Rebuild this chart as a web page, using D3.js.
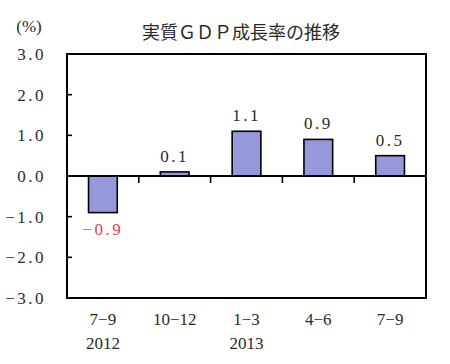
<!DOCTYPE html>
<html><head><meta charset="utf-8">
<script src="https://cdn.jsdelivr.net/npm/d3@7"></script>
<style>
body{margin:0;background:#fff;}
text{font-family:"Liberation Serif","DejaVu Serif",serif;fill:#2a2a2a;}
.jp{font-family:"Noto Sans CJK JP","Noto Sans",sans-serif;}
</style></head>
<body><svg id="c" width="450" height="364"></svg>
<script>
const categories = ["7-9","10-12","1-3","4-6","7-9"];
const years = ["2012","","2013","",""];
const values = [-0.9, 0.1, 1.1, 0.9, 0.5];
const yTicks = [3, 2, 1, 0, -1, -2, -3];
const title = "実質ＧＤＰ成長率の推移";
const unit = "(%)";

const svg = d3.select("#c");
const m = {l:67, r:426, t:54, b:298};
const x = d3.scaleBand().domain(d3.range(categories.length)).range([m.l, m.r]).paddingInner(0).paddingOuter(0);
const y = d3.scaleLinear().domain([-3, 3]).range([m.b, m.t]);
const bw = x.bandwidth()*0.4;

// bars
svg.selectAll("rect.bar").data(values).enter().append("rect")
  .attr("x",(d,i)=>x(i)+x.bandwidth()/2-bw/2)
  .attr("y",d=>y(Math.max(0,d)))
  .attr("width",bw)
  .attr("height",d=>Math.abs(y(d)-y(0)))
  .attr("fill","#9797dc").attr("stroke","#000").attr("stroke-width",1.6);

// frame
svg.append("rect").attr("x",m.l).attr("y",m.t).attr("width",m.r-m.l).attr("height",m.b-m.t)
  .attr("fill","none").attr("stroke","#000").attr("stroke-width",2);

// zero line
svg.append("line").attr("x1",m.l).attr("x2",m.r).attr("y1",y(0)).attr("y2",y(0)).attr("stroke","#000").attr("stroke-width",2);

// y tick marks (inward)
svg.selectAll("line.yt").data(yTicks.filter(v=>v!==3&&v!==-3&&v!==0)).enter().append("line")
  .attr("x1",m.l).attr("x2",m.l+5).attr("y1",d=>y(d)).attr("y2",d=>y(d)).attr("stroke","#000").attr("stroke-width",1.6);

// x tick marks on zero line between categories
svg.selectAll("line.xt").data(d3.range(1,categories.length)).enter().append("line")
  .attr("x1",i=>x(i)).attr("x2",i=>x(i)).attr("y1",y(0)).attr("y2",y(0)+7).attr("stroke","#000").attr("stroke-width",1.6);

// y labels
const fmt = v => (v<0?"\u2212":"") + Math.abs(v).toFixed(1);
svg.selectAll("text.yl").data(yTicks).enter().append("text")
  .attr("x",46).attr("y",d=>y(d)+6).attr("text-anchor","end")
  .attr("font-size",17).attr("letter-spacing",2.5).text(fmt);

// category labels
svg.selectAll("text.xl").data(categories).enter().append("text")
  .attr("x",(d,i)=>x(i)+x.bandwidth()/2).attr("y",325).attr("text-anchor","middle")
  .attr("font-size",17).text(d=>d.replace("-","\u2212"));
svg.selectAll("text.yr").data(years).enter().append("text")
  .attr("x",(d,i)=>x(i)+x.bandwidth()/2).attr("y",349).attr("text-anchor","middle")
  .attr("font-size",17).text(d=>d);

// value labels
svg.selectAll("text.vl").data(values).enter().append("text")
  .attr("x",(d,i)=>x(i)+x.bandwidth()/2)
  .attr("y",d=>d>=0? y(d)-10 : y(d)+22)
  .attr("text-anchor","middle").attr("font-size",17).attr("letter-spacing",2.5)
  .style("fill",d=>d<0?"#e63c50":"#2a2a2a")
  .text(fmt);

// title and unit
svg.append("text").attr("class","jp").attr("x",241).attr("y",39).attr("text-anchor","middle")
  .attr("font-size",18).text(title);
svg.append("text").attr("x",29).attr("y",32).attr("text-anchor","middle").attr("font-size",17).text(unit);
</script></body></html>
